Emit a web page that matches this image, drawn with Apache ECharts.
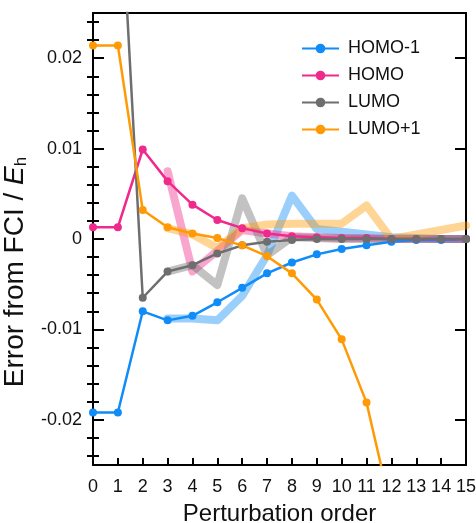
<!DOCTYPE html>
<html>
<head>
<meta charset="utf-8">
<script src="https://cdn.jsdelivr.net/npm/echarts@6/dist/echarts.min.js"></script>
<style>
html,body{margin:0;padding:0;background:#fff;}
#chart{width:476px;height:523px;}
</style>
</head>
<body>
<div id="chart"></div>
<script>
// ---- data ----
var orders = [0,1,2,3,4,5,6,7,8,9,10,11,12,13,14,15];
var homo1 = [-0.0192,-0.0192,-0.0080,-0.0090,-0.0085,-0.0070,-0.0054,-0.0038,-0.0026,-0.0017,-0.0011,-0.0007,-0.0003,-0.0001,-0.0001,0.0000];
var homo  = [0.0013,0.0013,0.0099,0.0064,0.0038,0.0021,0.0012,0.0006,0.0003,0.0002,0.0001,0.0001,0.0000,0.0000,0.0000,0.0000];
var lumo  = [0.0440,0.0440,-0.0065,-0.0036,-0.0029,-0.0016,-0.0007,-0.0003,-0.0001,0.0000,0.0000,0.0000,0.0000,0.0000,0.0000,0.0000];
var lumo1 = [0.0214,0.0214,0.0032,0.0013,0.0006,0.0001,-0.0007,-0.0019,-0.0038,-0.0067,-0.0111,-0.0181,-0.0300,-0.0500,-0.0800,-0.1300];

var refOrders = [3,4,5,6,7,8,9,10,11,12,13,14,15];
var homo1Ref = [-0.0088,-0.0088,-0.0090,-0.0063,-0.0018,0.0048,0.0011,0.0008,0.0005,0.0002,0.0001,0.0000,0.0000];
var homoRef  = [0.0075,-0.0036,-0.0013,0.0010,0.0006,0.0003,0.0002,0.0001,0.0001,0.0000,0.0000,0.0000,0.0000];
var lumoRef  = [-0.0036,-0.0029,-0.0051,0.0045,-0.0018,0.0002,0.0001,0.0000,0.0000,0.0000,0.0000,0.0000,0.0000];
var lumo1Ref = [0.0012,0.0005,-0.0010,0.0012,0.0016,0.0017,0.0017,0.0017,0.0037,0.0000,0.0005,0.0010,0.0015];

var seriesNames = ['HOMO-1','HOMO','LUMO','LUMO+1'];
var yMajorTicks = [-0.02,-0.01,0,0.01,0.02];
var yMinorTicks = [-0.024,-0.022,-0.018,-0.016,-0.014,-0.012,-0.008,-0.006,-0.004,-0.002,
                   0.002,0.004,0.006,0.008,0.012,0.014,0.016,0.018,0.022,0.024];
var xTicks = [0,15,1]; // min, max, step

// ---- styles ----
var FONT = "'Liberation Sans', Arial, Helvetica, sans-serif";
var colors = ['#0f8cf8','#f02a8c','#6e6e6e','#ff9a05'];

function pairs(xs, ys){ return xs.map(function(x,i){ return [x, ys[i]]; }); }

var mainData = [homo1, homo, lumo, lumo1];
var refData = [homo1Ref, homoRef, lumoRef, lumo1Ref];

var series = [];
refData.forEach(function(d,i){
  series.push({
    name: seriesNames[i] + ' ref',
    type: 'line',
    data: pairs(refOrders, d),
    showSymbol: false,
    symbol: 'none',
    z: 1,
    silent: true,
    clip: true,
    lineStyle: {color: colors[i], width: 8, opacity: 0.42, join: 'round', cap: 'round'},
    itemStyle: {color: colors[i]}
  });
});
mainData.forEach(function(d,i){
  series.push({
    name: seriesNames[i],
    type: 'line',
    data: pairs(orders, d),
    symbol: 'circle',
    symbolSize: 8,
    z: 3,
    clip: true,
    lineStyle: {color: colors[i], width: 2.5},
    itemStyle: {color: colors[i]}
  });
});

var yBase = {
  type: 'value', min: -0.025, max: 0.025,
  splitLine: {show: false}
};

var option = {
  animation: false,
  backgroundColor: '#fff',
  grid: {left: 93, right: 10, top: 13, bottom: 58, containLabel: false, outerBoundsMode: 'none'},
  legend: {
    data: seriesNames,
    left: 296, top: 34,
    orient: 'vertical',
    itemWidth: 37, itemHeight: 12, itemGap: 8,
    textStyle: {fontFamily: FONT, fontSize: 18, color: '#111', lineHeight: 19, padding: [0,0,0,4]}
  },
  xAxis: [{
    type: 'value', min: xTicks[0], max: xTicks[1], interval: xTicks[2],
    position: 'bottom',
    axisLine: {show: true, onZero: false, lineStyle: {color: '#000', width: 2}},
    axisTick: {show: true, inside: true, length: 7, lineStyle: {color: '#000', width: 2}},
    axisLabel: {fontFamily: FONT, fontSize: 18, color: '#111', margin: 13},
    splitLine: {show: false},
    name: 'Perturbation order', nameLocation: 'middle', nameGap: 37,
    nameTextStyle: {fontFamily: FONT, fontSize: 24, color: '#111'}
  },{
    type: 'value', min: xTicks[0], max: xTicks[1], position: 'top',
    axisLine: {show: true, onZero: false, lineStyle: {color: '#000', width: 2}},
    axisTick: {show: false}, axisLabel: {show: false}, splitLine: {show: false}
  }],
  yAxis: [
    Object.assign({}, yBase, {
      position: 'left',
      axisLine: {show: true, onZero: false, lineStyle: {color: '#000', width: 2}},
      axisTick: {show: true, inside: true, length: 11, customValues: yMajorTicks, lineStyle: {color: '#000', width: 2}},
      axisLabel: {show: true, customValues: yMajorTicks, fontFamily: FONT, fontSize: 18, color: '#111', margin: 11},
      name: 'Error from FCI / {e|E}{h|h}{pad|}', nameLocation: 'middle', nameGap: 48,
      nameTextStyle: {fontFamily: FONT, fontSize: 28, color: '#111',
        rich: {
          e: {fontFamily: FONT, fontSize: 28, fontStyle: 'italic', color: '#111'},
          h: {fontFamily: FONT, fontSize: 17, color: '#111', verticalAlign: 'bottom', padding: [12,0,0,0]},
          pad: {width: 66}
        }}
    }),
    Object.assign({}, yBase, {
      position: 'left',
      axisLine: {show: false},
      axisTick: {show: true, inside: true, length: 6, customValues: yMinorTicks, lineStyle: {color: '#000', width: 2}},
      axisLabel: {show: false}
    }),
    Object.assign({}, yBase, {
      position: 'right',
      axisLine: {show: true, onZero: false, lineStyle: {color: '#000', width: 2}},
      axisTick: {show: true, inside: true, length: 11, customValues: yMajorTicks, lineStyle: {color: '#000', width: 2}},
      axisLabel: {show: false}
    }),
    Object.assign({}, yBase, {
      position: 'right',
      axisLine: {show: false},
      axisTick: {show: true, inside: true, length: 6, customValues: yMinorTicks, lineStyle: {color: '#000', width: 2}},
      axisLabel: {show: false}
    })
  ],
  series: series
};

var chart = echarts.init(document.getElementById('chart'), null, {renderer: 'canvas'});
chart.setOption(option);
</script>
</body>
</html>
